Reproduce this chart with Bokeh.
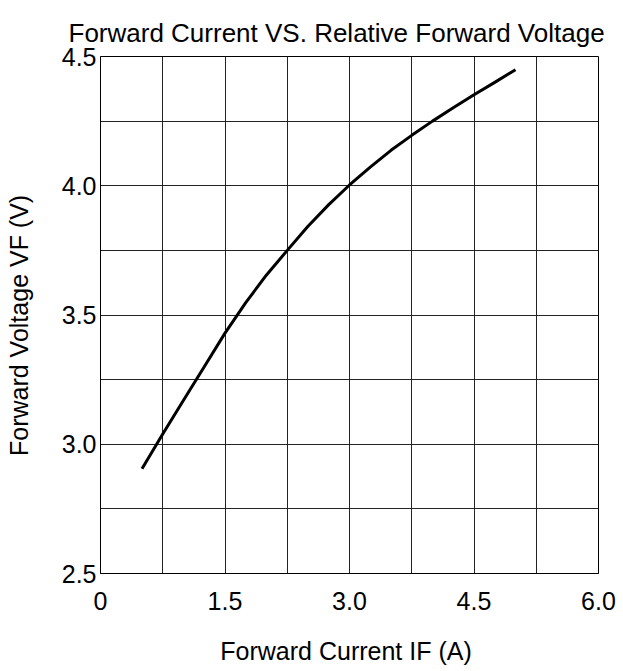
from bokeh.plotting import figure
from bokeh.models import Range1d, FixedTicker
from bokeh.embed import file_html
from bokeh.resources import INLINE

# Data
current_a = [0.5, 0.75, 1.0, 1.25, 1.5, 1.75, 2.0, 2.25, 2.5, 2.75, 3.0,
             3.25, 3.5, 3.75, 4.0, 4.25, 4.5, 4.75, 5.0]
voltage_v = [2.905, 3.04, 3.17, 3.30, 3.43, 3.548, 3.655, 3.75, 3.843, 3.927, 4.003,
             4.072, 4.137, 4.195, 4.25, 4.302, 4.352, 4.40, 4.449]

x_ticks = [0, 1.5, 3.0, 4.5, 6.0]
x_tick_labels = ["0", "1.5", "3.0", "4.5", "6.0"]
x_grid = [0, 0.75, 1.5, 2.25, 3.0, 3.75, 4.5, 5.25, 6.0]
y_ticks = [2.5, 3.0, 3.5, 4.0, 4.5]
y_tick_labels = ["2.5", "3.0", "3.5", "4.0", "4.5"]
y_grid = [2.5, 2.75, 3.0, 3.25, 3.5, 3.75, 4.0, 4.25, 4.5]

title_text = "Forward Current VS.  Relative Forward Voltage"
x_label = "Forward Current IF  (A)"
y_label = "Forward  Voltage  VF  (V)"

FONT = "Liberation Sans"

p = figure(width=620, height=670, output_backend="svg", toolbar_location=None,
           x_range=Range1d(0, 6), y_range=Range1d(2.5, 4.5),
           min_border_left=100, min_border_right=22, min_border_top=56,
           min_border_bottom=97, title=title_text)

p.title.text_font = FONT
p.title.text_font_size = "26px"
p.title.text_font_style = "normal"
p.title.text_color = "black"
p.title.align = "left"
p.title.offset = -32
p.title.standoff = 18

p.outline_line_color = "black"
p.outline_line_width = 1
p.outline_line_alpha = 1

for ax, ticks, labels in ((p.xaxis[0], x_ticks, x_tick_labels), (p.yaxis[0], y_ticks, y_tick_labels)):
    ax.ticker = FixedTicker(ticks=ticks)
    ax.major_label_overrides = {t: l for t, l in zip(ticks, labels)}
    ax.major_tick_out = 0
    ax.major_tick_in = 0
    ax.minor_tick_out = 0
    ax.minor_tick_in = 0
    ax.axis_line_color = "black"
    ax.major_label_text_font = FONT
    ax.major_label_text_font_size = "25px"
    ax.major_label_text_color = "black"
    ax.axis_label_text_font = FONT
    ax.axis_label_text_font_size = "25px"
    ax.axis_label_text_font_style = "normal"
    ax.axis_label_text_color = "black"

p.xaxis[0].axis_label = x_label
p.xaxis[0].major_label_standoff = 18
p.xaxis[0].axis_label_standoff = 24
p.yaxis[0].axis_label = y_label
p.yaxis[0].major_label_standoff = 4
p.yaxis[0].axis_label_standoff = 26

p.xgrid[0].ticker = FixedTicker(ticks=x_grid)
p.ygrid[0].ticker = FixedTicker(ticks=y_grid)
for g in (p.xgrid[0], p.ygrid[0]):
    g.grid_line_color = "#222222"
    g.grid_line_width = 1
    g.grid_line_alpha = 1

p.line(current_a, voltage_v, line_color="black", line_width=3, line_join="round")

open("out.html", "w").write(file_html(p, INLINE))
